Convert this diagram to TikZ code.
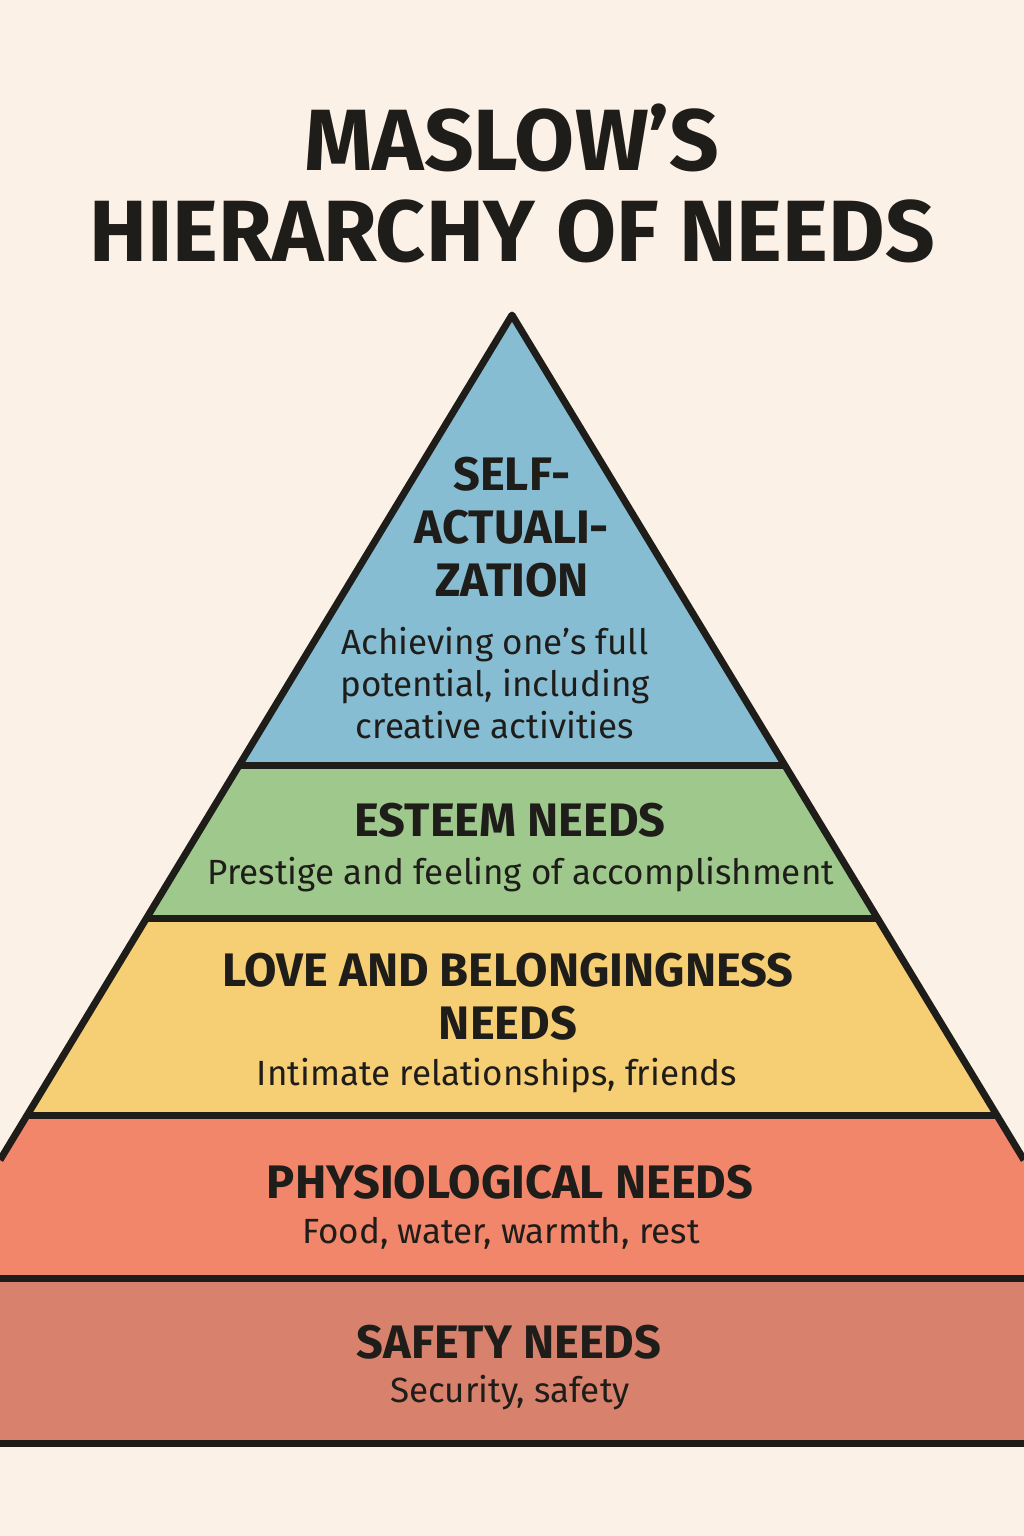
\documentclass[tikz,border=0pt]{standalone}
\usepackage{fontspec}
\setmainfont{Fira Sans}
\usepackage{tikz}
\usetikzlibrary{positioning}
\definecolor{paper}{HTML}{FCF1E6}
\definecolor{ink}{HTML}{1F1D1A}
\definecolor{lvlblue}{HTML}{87BDD3}
\definecolor{lvlgreen}{HTML}{9FC98C}
\definecolor{lvlyellow}{HTML}{F6CE73}
\definecolor{lvlred}{HTML}{F2866B}
\definecolor{lvlbrown}{HTML}{D8826D}
\tikzstyle{title} = [text=ink, align=center, inner sep=0pt, font=\bfseries\fontsize{87}{92}\selectfont]
\tikzstyle{head} = [text=ink, align=center, inner sep=0pt, font=\bfseries\fontsize{47}{53}\selectfont]
\tikzstyle{desc} = [text=ink, align=center, inner sep=0pt, font=\fontsize{35}{42}\selectfont]
\tikzstyle{edge} = [draw=ink, line width=7pt, line join=round]

\begin{document}
\begin{tikzpicture}[x=1pt, y=-1pt]

% page =============================
\fill[paper] (0,0) rectangle (1024,1536);
\useasboundingbox (0,0) rectangle (1024,1536);

% levels
\fill[lvlblue] (512,315) -- (239.3,765) -- (784.7,765) -- cycle;
\fill[lvlgreen] (239.3,765) -- (146.6,918) -- (877.4,918) -- (784.7,765) -- cycle;
\fill[lvlyellow] (146.6,918) -- (27.2,1115) -- (996.8,1115) -- (877.4,918) -- cycle;
\fill[lvlred] (27.2,1115) -- (0,1160) -- (0,1278) -- (1024,1278) -- (1024,1160) -- (996.8,1115) -- cycle;
\fill[lvlbrown] (0,1278) rectangle (1024,1443);

% outlines
\path[edge] (0,1160) -- (512,315) -- (1024,1160);
\path[edge] (239.3,765) -- (784.7,765);
\path[edge] (146.6,918) -- (877.4,918);
\path[edge] (27.2,1115) -- (996.8,1115);
\path[edge] (0,1278) -- (1024,1278);
\path[edge] (0,1443) -- (1024,1443);

% title
\node[title] (t1) at (512,138) {MASLOW’S};
\node[title] (t2) at (512,231) {HIERARCHY OF NEEDS};

% self-actualization
\node[head] (selfh) at (512,527) {SELF-\\ACTUALI-\\ZATION};
\node[desc] (selfd) at (495,683) {Achieving one’s full\\potential, including\\creative activities};

% esteem
\node[head] (esth) at (510,820) {ESTEEM NEEDS};
\node[desc] (estd) at (521,875) {Prestige and feeling of accomplishment};

% love
\node[head] (loveh) at (508,997) {LOVE AND BELONGINGNESS\\NEEDS};
\node[desc] (loved) at (497,1076) {Intimate relationships, friends};

% physiological
\node[head] (physh) at (510,1182) {PHYSIOLOGICAL NEEDS};
\node[desc] (physd) at (501,1233) {Food, water, warmth, rest};

% safety
\node[head] (safeh) at (509,1342) {SAFETY NEEDS};
\node[desc] (safed) at (510,1393) {Security, safety};

\end{tikzpicture}
\end{document}
